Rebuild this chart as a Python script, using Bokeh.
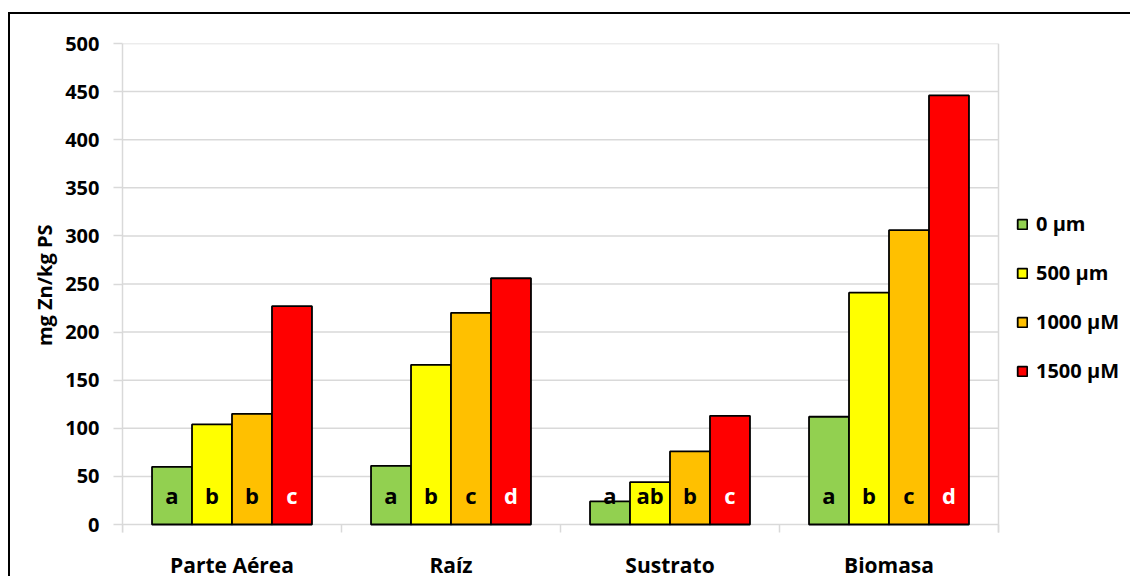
from bokeh.plotting import figure
from bokeh.models import ColumnDataSource, Range1d, FixedTicker, Legend, LegendItem, Title
from bokeh.transform import dodge
from bokeh.core.properties import value
from bokeh.embed import file_html
from bokeh.resources import INLINE

# Zn concentration (mg Zn/kg PS) per plant compartment and treatment
categories = ["Parte Aérea", "Raíz", "Sustrato", "Biomasa"]
category_pos = [0.5, 1.5, 2.5, 3.5]
category_edges = [0, 1, 2, 3, 4]
series_labels = ["0 µm", "500 µm", "1000 µM", "1500 µM"]
zn_0 = [60, 61, 24, 112]
zn_500 = [104, 166, 44, 241]
zn_1000 = [115, 220, 76, 306]
zn_1500 = [227, 256, 113, 446]
# Letters from the mean comparison test
sig_0 = ["a", "a", "a", "a"]
sig_500 = ["b", "b", "ab", "b"]
sig_1000 = ["b", "c", "b", "c"]
sig_1500 = ["c", "d", "c", "d"]
y_ticks = [0, 50, 100, 150, 200, 250, 300, 350, 400, 450, 500]

colors = ["#92D050", "#FFFF00", "#FFC000", "#FF0000"]
letter_colors = ["black", "black", "black", "white"]
FONT = "Open Sans"
GRID = "#D9D9D9"

# the frame also covers the legend area (right) and the category labels (below);
# bars live in x 0..4, y 0..500
PX_PER_UNIT = 481 / 500
x_end = 4 * 1010 / 876
y_start = -54 / PX_PER_UNIT
tick_drop = -8 / PX_PER_UNIT
cat_label_y = -40 / PX_PER_UNIT
sig_label_y = 31

p = figure(width=1122, height=564, output_backend="svg", toolbar_location=None,
           x_range=Range1d(0, x_end), y_range=Range1d(y_start, 500),
           min_border_left=112, min_border_top=29, min_border_bottom=0,
           min_border_right=0)
p.margin = (12, 0, 0, 8)
p.styles = {"border-left": "2px solid black", "border-top": "2px solid black"}
p.outline_line_color = None
p.background_fill_color = "white"
p.border_fill_color = "white"

# y axis
p.yaxis.ticker = FixedTicker(ticks=y_ticks)
p.yaxis.bounds = (tick_drop, 500)
p.yaxis.major_label_text_font = FONT
p.yaxis.major_label_text_font_style = "bold"
p.yaxis.major_label_text_font_size = "20px"
p.yaxis.major_label_text_color = "black"
p.yaxis.major_label_standoff = 14
p.yaxis.axis_line_color = GRID
p.yaxis.axis_line_width = 1.5
p.yaxis.major_tick_line_color = GRID
p.yaxis.major_tick_line_width = 1.5
p.yaxis.major_tick_in = 0
p.yaxis.major_tick_out = 9
p.yaxis.minor_tick_line_color = None
p.xaxis.visible = False
p.xgrid.grid_line_color = None
p.ygrid.grid_line_color = None

y_title = Title(text="mg Zn/kg PS", align="right", offset=181,
                text_font=FONT, text_font_style="bold", text_font_size="20px",
                text_color="black")
p.add_layout(y_title, "left")

# horizontal gridlines (the 0 line doubles as the category axis)
grid_src = ColumnDataSource(dict(x0=[0] * len(y_ticks), x1=[4] * len(y_ticks),
                                 y=y_ticks))
p.segment(x0="x0", x1="x1", y0="y", y1="y", source=grid_src,
          line_color=GRID, line_width=1.5)
# right edge of the plot area and the category boundary ticks
p.segment(x0=[4], x1=[4], y0=[tick_drop], y1=[500], line_color=GRID, line_width=1.5)
edge_src = ColumnDataSource(dict(x=category_edges, y0=[0] * 5, y1=[tick_drop] * 5))
p.segment(x0="x", x1="x", y0="y0", y1="y1", source=edge_src,
          line_color=GRID, line_width=1.5)

# category names under the axis
cat_src = ColumnDataSource(dict(x=category_pos, y=[cat_label_y] * 4, name=categories))
p.text(x="x", y="y", text="name", source=cat_src, text_font=value(FONT),
       text_font_style="bold", text_font_size="21px", text_color="black",
       text_align="center", text_baseline="alphabetic")

source = ColumnDataSource(dict(
    x=category_pos,
    zn_0=zn_0, zn_500=zn_500, zn_1000=zn_1000, zn_1500=zn_1500,
    sig_0=sig_0, sig_500=sig_500, sig_1000=sig_1000, sig_1500=sig_1500,
    label_y=[sig_label_y] * len(categories),
))

bar_w = 0.1826
offsets = [-1.5 * bar_w, -0.5 * bar_w, 0.5 * bar_w, 1.5 * bar_w]
value_cols = ["zn_0", "zn_500", "zn_1000", "zn_1500"]
sig_cols = ["sig_0", "sig_500", "sig_1000", "sig_1500"]

items = []
for col, sig, off, color, tcolor, lab in zip(value_cols, sig_cols, offsets, colors,
                                              letter_colors, series_labels):
    r = p.vbar(x=dodge("x", off, range=p.x_range), top=col, width=bar_w, bottom=0,
               source=source, fill_color=color, line_color="black", line_width=1.8)
    items.append(LegendItem(label=lab, renderers=[r]))
    p.text(x=dodge("x", off, range=p.x_range), y="label_y", text=sig, source=source,
           text_font=value(FONT), text_font_style="bold", text_font_size="22px",
           text_color=tcolor, text_align="center", text_baseline="alphabetic")

legend = Legend(items=items, location=(894, 194))
legend.label_text_font = FONT
legend.label_text_font_style = "bold"
legend.label_text_font_size = "20px"
legend.label_text_color = "black"
legend.glyph_width = 12
legend.glyph_height = 12
legend.label_standoff = 8
legend.spacing = 22
legend.padding = 0
legend.margin = 0
legend.border_line_color = None
legend.background_fill_color = None
p.add_layout(legend)

open("out.html", "w").write(file_html(p, INLINE))
